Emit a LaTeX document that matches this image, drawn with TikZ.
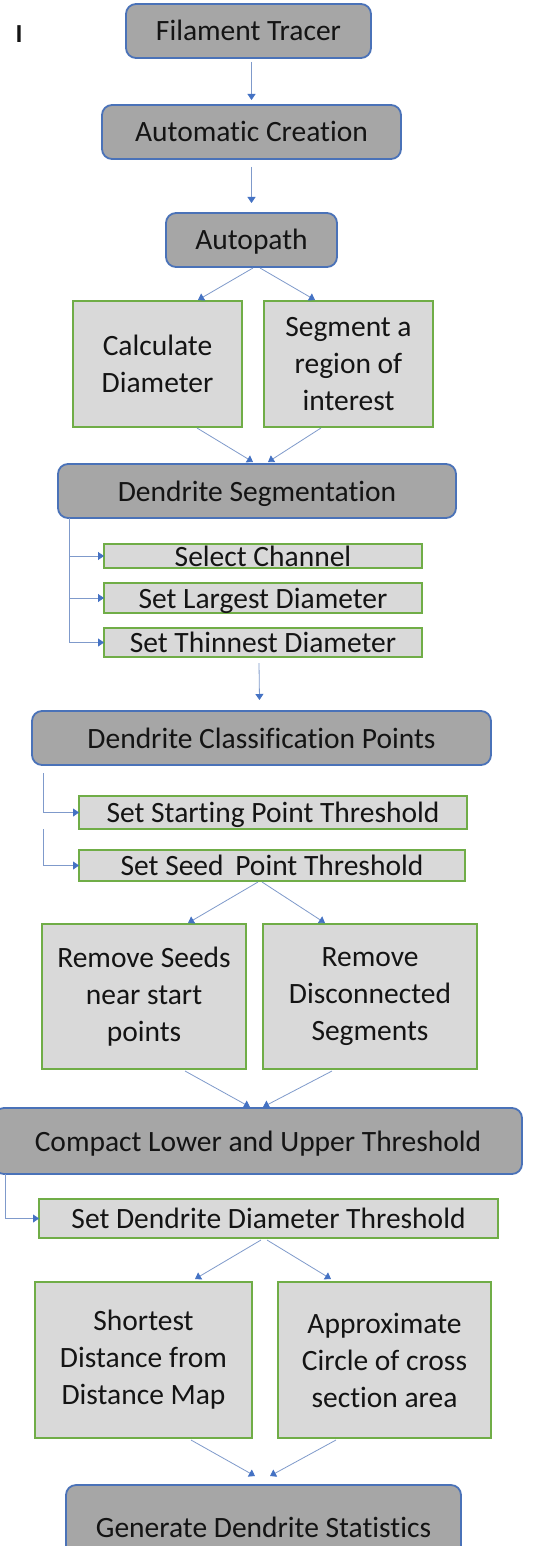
\documentclass[tikz,border=0pt]{standalone}
\usepackage{fontspec}
\setmainfont{Carlito}[Ligatures=NoCommon]
\usetikzlibrary{arrows.meta,calc}

\definecolor{stageblue}{HTML}{4A72B8}
\definecolor{stagefill}{HTML}{A6A6A6}
\definecolor{stepgreen}{HTML}{70AD47}
\definecolor{stepfill}{HTML}{D9D9D9}
\definecolor{linkline}{HTML}{7F9ACB}
\definecolor{tipblue}{HTML}{4472C4}
\definecolor{ink}{HTML}{141414}

\tikzset{
  x=1pt, y=1pt,
  base/.style={inner sep=0pt, outer sep=0pt, text=ink,
    font=\fontsize{29.5}{37}\selectfont, align=center},
  oneline/.style={text height=20pt, text depth=0pt},
  stage/.style={base, draw=stageblue, fill=stagefill, line width=1.8pt,
    rounded corners=10pt},
  stepbox/.style={base, draw=stepgreen, fill=stepfill, line width=1.8pt},
  link/.style={draw=linkline, line width=0.8pt,
    -{Triangle[length=6pt,width=8pt,color=tipblue]}},
}

\newcommand{\boxat}[7]{% style, name, x1, y1, x2, y2, text
  \node[#1, minimum width={#5-#3}, minimum height={#6-#4}]
    (#2) at ({(#3+#5)/2},{-(#4+#6)/2}) {#7};}

\begin{document}
\begin{tikzpicture}
\useasboundingbox (0,0) rectangle (540,-1546);
\fill[white] (0,0) rectangle (540,-1546);

% panel letter
\node[font=\fontsize{26}{30}\selectfont\bfseries, text=ink, inner sep=0pt]
  (panel) at (19,-34) {I};

% stages and steps
\boxat{stage,oneline}{ft}{126}{4}{371}{58}{Filament Tracer}
\boxat{stage,oneline}{ac}{102}{105}{401}{159}{Automatic Creation}
\boxat{stage,oneline}{ap}{166}{213}{337}{267}{Autopath}
\boxat{stepbox}{cd}{73}{301}{242}{427}{Calculate\\Diameter}
\boxat{stepbox}{sr}{264}{301}{433}{427}{Segment a\\region of\\interest}
\boxat{stage,oneline}{ds}{58}{464}{456}{518}{Dendrite Segmentation}
\boxat{stepbox,oneline}{sc}{104}{544}{422}{568}{Select Channel}
\boxat{stepbox,oneline}{sl}{104}{583}{422}{613}{Set Largest Diameter}
\boxat{stepbox,oneline}{sn}{104}{628}{422}{657}{Set Thinnest Diameter}
\boxat{stage,oneline}{dc}{32}{711}{491}{765}{Dendrite Classification Points}
\boxat{stepbox,oneline}{sp}{79}{796}{467}{829}{Set Starting Point Threshold}
\boxat{stepbox,oneline}{ss}{79}{850}{465}{881}{Set Seed\, Point Threshold}
\boxat{stepbox}{rs}{42}{924}{246}{1069}{Remove Seeds\\near start\\points}
\boxat{stepbox}{rd}{263}{924}{477}{1069}{Remove\\Disconnected\\Segments}
\boxat{stage,oneline}{cl}{-6}{1108}{522}{1174}{Compact Lower and Upper Threshold}
\boxat{stepbox,oneline}{dd}{39}{1199}{498}{1238}{Set Dendrite Diameter Threshold}
\boxat{stepbox}{sh}{35}{1282}{252}{1438}{Shortest\\Distance from\\Distance Map}
\boxat{stepbox}{ax}{278}{1282}{491}{1438}{Approximate\\Circle of cross\\section area}
\boxat{stage,oneline}{gd}{66}{1485}{461}{1569}{Generate Dendrite Statistics}

% straight links
\draw[link] ($(ft.south)+(3,-4)$) -- ($(ac.north)+(0,5)$);
\draw[link] ($(ac.south)+(0,-8)$) -- ($(ap.north)+(0,10)$);
\draw[link] ($(sn.south)+(-4,-6)$) -- ($(dc.north)+(-2,11)$);

% forks and joins
\draw[link] ($(ap.south)+(1.5,-1)$) -- ($(cd.north)+(40.5,1)$);
\draw[link] ($(ap.south)+(8.5,-1)$) -- ($(sr.north)+(-33.5,1)$);
\draw[link] ($(cd.south)+(39.5,-1)$) -- ($(ds.north)+(-4,2)$);
\draw[link] ($(sr.south)+(-27.5,-1)$) -- ($(ds.north)+(11,2)$);

\draw[link] ($(ss.south)+(-14,-1)$) -- ($(rs.north)+(44,1)$);
\draw[link] ($(ss.south)+(-10,-1)$) -- ($(rd.north)+(-45,1)$);
\draw[link] ($(rs.south)+(41,-2)$) -- ($(cl.north)+(-8,1)$);
\draw[link] ($(rd.south)+(-38,-2)$) -- ($(cl.north)+(5,1)$);

\draw[link] ($(dd.south)+(-7.5,-2)$) -- ($(sh.north)+(51.5,3)$);
\draw[link] ($(dd.south)+(-1.5,-2)$) -- ($(ax.north)+(-53.5,3)$);
\draw[link] ($(sh.south)+(47.5,-2)$) -- ($(gd.north)+(-8.5,9)$);
\draw[link] ($(ax.south)+(-48.5,-2)$) -- ($(gd.north)+(6.5,9)$);

% elbow links to the settings of each stage
\draw[link] ($(ds.south west)+(11,0)$) |- (sc.west);
\draw[link] ($(ds.south west)+(11,0)$) |- (sl.west);
\draw[link] ($(ds.south west)+(11,0)$) |- (sn.west);
\draw[link] ($(dc.south west)+(11,-8)$) |- (sp.west);
\draw[link] ($(sp.south west)+(-36,0)$) |- (ss.west);
\draw[link] ($(cl.south west)+(11,0)$) |- (dd.west);
\end{tikzpicture}
\end{document}
